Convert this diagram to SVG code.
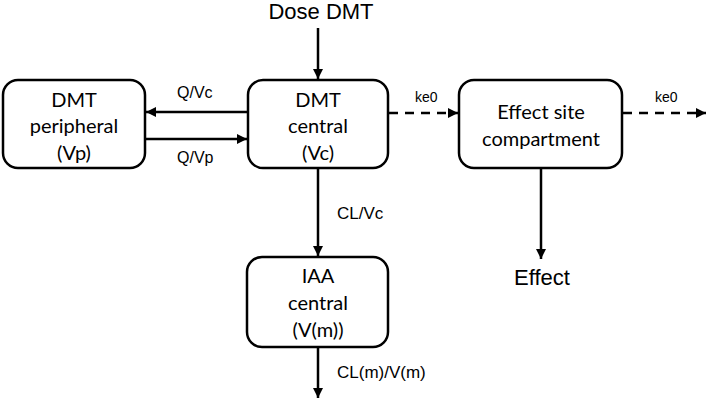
<svg xmlns="http://www.w3.org/2000/svg" width="709" height="400" viewBox="0 0 709 400">
<style>
.box{fill:#fff;stroke:#000;stroke-width:2.5}
.bt{font-family:Lato,"Open Sans",sans-serif;font-size:20px;text-anchor:middle;fill:#000}
.lbl{font-family:"Liberation Sans",Arial,sans-serif;font-size:16px;fill:#000}
.big{font-family:"Liberation Sans",Arial,sans-serif;font-size:22px;fill:#000;text-anchor:middle}
.ln{stroke:#000;stroke-width:2.5;fill:none}
.dash{stroke-dasharray:9,7}
</style>
<defs>
<marker id="ah" viewBox="0 0 10 10" refX="10" refY="5" markerWidth="4" markerHeight="4" orient="auto" markerUnits="strokeWidth">
<path d="M0,0 L10,5 L0,10 z" fill="#000"/>
</marker>
</defs>
<g id="connectors">
<line class="ln" x1="318" y1="28" x2="318" y2="79" marker-end="url(#ah)"/>
<line class="ln" x1="248" y1="112" x2="146" y2="112" marker-end="url(#ah)"/>
<line class="ln" x1="145" y1="139" x2="247" y2="139" marker-end="url(#ah)"/>
<line class="ln dash" x1="389" y1="113" x2="458" y2="113" marker-end="url(#ah)"/>
<line class="ln dash" x1="623" y1="113" x2="706" y2="113" marker-end="url(#ah)"/>
<line class="ln" x1="318" y1="169" x2="318" y2="256" marker-end="url(#ah)"/>
<line class="ln" x1="541" y1="169" x2="541" y2="259" marker-end="url(#ah)"/>
<line class="ln" x1="318" y1="347" x2="318" y2="398" marker-end="url(#ah)"/>
<text class="lbl" x="177" y="98">Q/Vc</text>
<text class="lbl" x="177" y="163">Q/Vp</text>
<text class="lbl" x="415" y="102" style="font-size:14px">ke0</text>
<text class="lbl" x="655" y="102" style="font-size:14px">ke0</text>
<text class="lbl" x="337" y="219" style="font-size:17px">CL/Vc</text>
<text class="lbl" x="337" y="378" style="font-size:17px">CL(m)/V(m)</text>
</g>
<g id="dose"><text class="big" x="321" y="19">Dose DMT</text></g>
<g id="effect"><text class="big" x="542" y="285">Effect</text></g>
<g id="peripheral">
<rect class="box" x="3" y="80" width="142" height="88" rx="15"/>
<text class="bt" x="74" y="107">DMT</text>
<text class="bt" x="74" y="133">peripheral</text>
<text class="bt" x="74" y="160">(Vp)</text>
</g>
<g id="central">
<rect class="box" x="248" y="80" width="140" height="88" rx="15"/>
<text class="bt" x="318" y="107">DMT</text>
<text class="bt" x="318" y="133">central</text>
<text class="bt" x="318" y="160">(Vc)</text>
</g>
<g id="effectsite">
<rect class="box" x="459" y="80" width="163" height="88" rx="15"/>
<text class="bt" x="541" y="119">Effect site</text>
<text class="bt" x="541" y="146">compartment</text>
</g>
<g id="iaa">
<rect class="box" x="247" y="257" width="141" height="90" rx="15"/>
<text class="bt" x="318" y="283">IAA</text>
<text class="bt" x="318" y="310">central</text>
<text class="bt" x="318" y="337">(V(m))</text>
</g>
</svg>
